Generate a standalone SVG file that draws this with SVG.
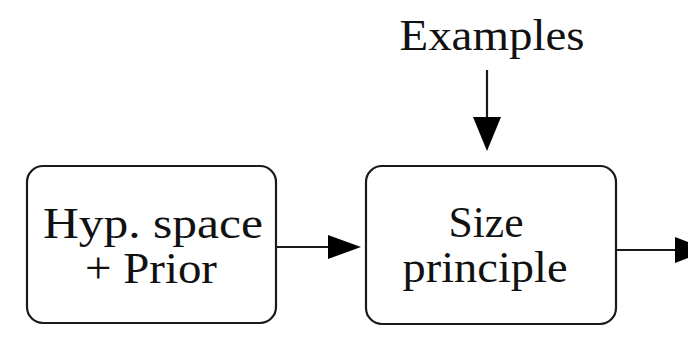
<svg xmlns="http://www.w3.org/2000/svg" width="688" height="337" viewBox="0 0 688 337">
  <style>
    .box { fill: #ffffff; stroke: #1a1a1a; stroke-width: 2.2; }
    .lbl { font-family: "Liberation Serif", "Times New Roman", serif; font-size: 44px; fill: #111111; text-anchor: middle; }
    .edge { stroke: #1a1a1a; stroke-width: 2.2; fill: none; }
    .head { fill: #000000; stroke: none; }
  </style>
  <rect width="688" height="337" fill="#ffffff"/>

  <g id="examples">
    <text class="lbl" x="492" y="50" font-size="46" textLength="185" lengthAdjust="spacingAndGlyphs">Examples</text>
  </g>

  <g id="hyp-space">
    <rect class="box" x="27" y="166" width="249" height="157" rx="16" ry="16"/>
    <text class="lbl" x="153" y="238" textLength="220" lengthAdjust="spacingAndGlyphs">Hyp. space</text>
    <text class="lbl" x="151" y="283" textLength="132" lengthAdjust="spacingAndGlyphs">+ Prior</text>
  </g>

  <g id="size-principle">
    <rect class="box" x="366" y="166" width="250" height="158" rx="16" ry="16"/>
    <text class="lbl" x="486" y="237" textLength="75" lengthAdjust="spacingAndGlyphs">Size</text>
    <text class="lbl" x="485" y="282" textLength="165" lengthAdjust="spacingAndGlyphs">principle</text>
  </g>

  <g id="connectors">
    <!-- hypothesis space -> size principle -->
    <line class="edge" x1="277" y1="247" x2="332" y2="247"/>
    <polygon class="head" points="328,235 361,247 328,259"/>
    <!-- examples -> size principle -->
    <line class="edge" x1="487" y1="70" x2="487" y2="120"/>
    <polygon class="head" points="473,117 501,117 487,151"/>
    <!-- size principle -> onward -->
    <line class="edge" x1="616" y1="250" x2="678" y2="250"/>
    <polygon class="head" points="675,237 708,250 675,263"/>
  </g>
</svg>
